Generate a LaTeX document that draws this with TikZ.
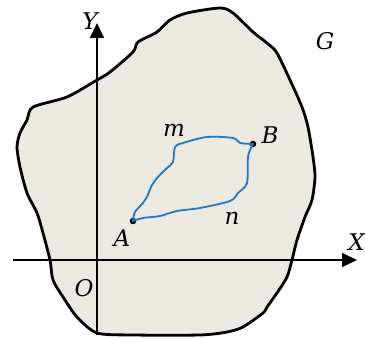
\documentclass[tikz,border=0pt]{standalone}
\usepackage{fontspec}
\setmainfont{DejaVu Serif}
\usetikzlibrary{arrows.meta}

\definecolor{regionfill}{RGB}{236,233,224}
\definecolor{pathblue}{RGB}{30,120,195}

\tikzset{
  outline/.style={line width=2.8pt, line join=round, fill=regionfill},
  axis/.style={line width=1.8pt, -{Triangle[length=15pt,width=14pt]}},
  curve/.style={pathblue, line width=1.8pt, line cap=round, line join=round},
  lbl/.style={font=\fontsize{23}{26}\selectfont\itshape, inner sep=1pt}
}

\begin{document}
\begin{tikzpicture}[x=1pt, y=-1pt]
  \useasboundingbox (0,0) rectangle (365,339);
  % region G
  \draw[outline] plot[smooth cycle, tension=0.45] coordinates {
    (97,80) (110,72) (133,52) (138,42) (157,32) (170,20) (187,13) (220,8)
    (233,13) (253,32) (267,43) (277,53) (290,80) (302,107) (308,127)
    (313,157) (315,177) (312,200) (305,217) (297,240) (292,260) (287,277)
    (277,293) (267,307) (263,313) (243,327) (227,332) (200,335) (133,335)
    (97,333) (77,317) (63,297) (53,280) (50,260) (43,233) (37,213) (27,193)
    (20,167) (17,147) (20,133) (27,120) (33,107) (67,97)};
  % axes
  \coordinate (xstart) at (13,260);
  \coordinate (xend) at (357,260);
  \coordinate (ystart) at (97,335);
  \coordinate (yend) at (97,23);
  \draw[axis] (xstart) -- (xend);
  \draw[axis] (ystart) -- (yend);
  % points
  \node[circle, fill, inner sep=0pt, minimum size=6.5pt] (A) at (133,221) {};
  \node[circle, fill, inner sep=0pt, minimum size=6.5pt] (B) at (253,144) {};
  % paths m and n
  \draw[curve] (A.center) plot[smooth, tension=0.5] coordinates {
    (133,221) (135,212) (143,203) (147,197) (152,185) (158,177) (167,168)
    (173,162) (175,147) (183,143) (207,137) (233,138) (240,143) (253,144)};
  \draw[curve] (A.center) plot[smooth, tension=0.5] coordinates {
    (133,221) (143,218) (160,216) (177,211) (200,208) (230,201) (238,193)
    (247,183) (248,157) (251,148) (253,144)};
  % labels
  \node[lbl] (labelY) at (90,21) {Y};
  \node[lbl, anchor=east] (labelX) at (366,242) {X};
  \node[lbl] (labelO) at (84,288) {O};
  \node[lbl] (labelG) at (325,41) {G};
  \node[lbl] (labelA) at (122,238) {A};
  \node[lbl] (labelB) at (270,135) {B};
  \node[lbl] (labelm) at (174,130) {m};
  \node[lbl] (labeln) at (232,218) {n};
\end{tikzpicture}
\end{document}
